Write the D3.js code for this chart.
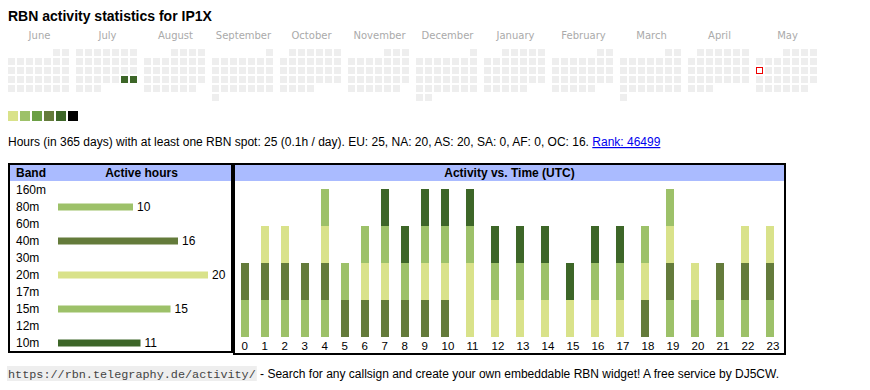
<!DOCTYPE html>
<html lang="en">
<head>
<meta charset="utf-8">
<title>RBN activity IP1X</title>
<script src="https://cdn.jsdelivr.net/npm/d3@7"></script>
<style>
  body { margin: 0; background: #fff; }
  text { font-family: "Liberation Sans", Arial, sans-serif; }
</style>
</head>
<body>
<script>
// calendar data (June 2024 .. May 2025)
var monthNames = ["June", "July", "August", "September", "October", "November",
                  "December", "January", "February", "March", "April", "May"];
var firstMonth = new Date(2024, 5, 1);
var activeDays = ["2024-07-27", "2024-07-28"];
var activeLevels = [5, 5];
var today = "2025-05-12";
var levelColors = ["#d9e28a", "#9dc169", "#6b9f45", "#647b3b", "#3d6628", "#000000"];

// band table
var bands = ["160m", "80m", "60m", "40m", "30m", "20m", "17m", "15m", "12m", "10m"];
var bandHours = [0, 10, 0, 16, 0, 20, 0, 15, 0, 11];
var bandColors = {"80m": "#9dc169", "40m": "#647b3b", "20m": "#d9e28a", "15m": "#9dc169", "10m": "#3d6628"};

// active hours per UTC hour, per band
var hourLabels = ["0","1","2","3","4","5","6","7","8","9","10","11",
                  "12","13","14","15","16","17","18","19","20","21","22","23"];
var h80 = [1,1,1,1,1,0,0,0,0,0,0,0,0,0,0,0,0,0,0,1,1,1,1,1];
var h40 = [1,1,1,1,1,1,1,1,1,1,1,0,0,0,0,0,0,0,1,1,0,1,1,1];
var h20 = [0,1,1,0,1,0,1,1,0,1,1,2,1,1,1,1,1,1,1,1,1,0,1,1];
var h15 = [0,0,0,0,1,1,1,1,1,1,1,1,1,1,1,0,1,1,1,1,0,0,0,0];
var h10 = [0,0,0,0,0,0,0,1,1,1,1,1,1,1,1,1,1,1,0,0,0,0,0,0];

var infoText = "Hours (in 365 days) with at least one RBN spot: 25 (0.1h / day). EU: 25, NA: 20, AS: 20, SA: 0, AF: 0, OC: 16. ";
var rankText = "Rank: 46499";

var width = 870, height = 390;
var svg = d3.select("body").append("svg")
    .attr("width", width)
    .attr("height", height);

// title
svg.append("text")
    .attr("x", 8).attr("y", 21)
    .attr("font-size", "14px").attr("font-weight", "bold")
    .text("RBN activity statistics for IP1X");

// ---- calendar ----
var monthX = d3.scaleLinear().domain([0, 12]).range([8, 8 + 68 * 12]);
var cellStep = d3.scaleLinear().domain([0, 1]).range([0, 9]);
var fmt = d3.timeFormat("%Y-%m-%d");

svg.selectAll("text.month")
    .data(monthNames)
    .enter().append("text")
    .attr("class", "month")
    .attr("x", function(d, i) { return monthX(i) + 31.5; })
    .attr("y", 39)
    .attr("text-anchor", "middle")
    .attr("fill", "#aaa")
    .style("font-family", "'DejaVu Sans', Verdana, sans-serif")
    .attr("font-size", "10px")
    .text(function(d) { return d; });

var days = [];
monthNames.forEach(function(name, m) {
    var start = d3.timeMonth.offset(firstMonth, m);
    var end = d3.timeMonth.offset(start, 1);
    var offset = (start.getDay() + 6) % 7;   // monday first
    d3.timeDay.range(start, end).forEach(function(dt) {
        var k = dt.getDate() - 1 + offset;
        days.push({m: m, col: k % 7, row: Math.floor(k / 7), key: fmt(dt)});
    });
});

svg.selectAll("rect.day")
    .data(days)
    .enter().append("rect")
    .attr("class", "day")
    .attr("x", function(d) { return monthX(d.m) + cellStep(d.col); })
    .attr("y", function(d) { return 49 + cellStep(d.row); })
    .attr("width", 7).attr("height", 7)
    .attr("fill", function(d) {
        var a = activeDays.indexOf(d.key);
        if (d.key == today) return "#fff";
        return a >= 0 ? levelColors[activeLevels[a] - 1] : "#eee";
    })
    .attr("stroke", function(d) { return d.key == today ? "#e00" : "none"; })
    .attr("stroke-width", 1);

// today cell: keep the 1px border on whole pixels
svg.selectAll("rect.day").filter(function(d) { return d.key == today; })
    .attr("x", function(d) { return monthX(d.m) + cellStep(d.col) + 0.5; })
    .attr("y", function(d) { return 49 + cellStep(d.row) + 0.5; })
    .attr("width", 6).attr("height", 6);

// legend
svg.selectAll("rect.legend")
    .data(levelColors)
    .enter().append("rect")
    .attr("class", "legend")
    .attr("x", function(d, i) { return 8 + i * 12; })
    .attr("y", 111)
    .attr("width", 10).attr("height", 10)
    .attr("fill", function(d) { return d; });

// info line
var info = svg.append("text")
    .attr("x", 8).attr("y", 146)
    .attr("font-size", "12px");
info.append("tspan").text(infoText);
info.append("tspan").attr("fill", "#00e")
    .style("text-decoration", "underline")
    .text(rankText);

// ---- band panel ----
var p1 = {x: 9, y: 164, w: 223, h: 188};
svg.append("rect").attr("x", p1.x + 1).attr("y", p1.y + 1)
    .attr("width", p1.w - 2).attr("height", 16).attr("fill", "#aabbff");
svg.append("rect").attr("x", p1.x).attr("y", p1.y)
    .attr("width", p1.w).attr("height", p1.h)
    .attr("fill", "none").attr("stroke", "#000").attr("stroke-width", 2);
svg.append("text").attr("x", 16).attr("y", 177)
    .attr("font-size", "12px").attr("font-weight", "bold").text("Band");
svg.append("text").attr("x", 141.5).attr("y", 177)
    .attr("text-anchor", "middle")
    .attr("font-size", "12px").attr("font-weight", "bold").text("Active hours");

var yBand = d3.scaleBand().domain(bands).range([181, 351]);
var xHours = d3.scaleLinear().domain([0, 20]).range([58, 208]);

svg.selectAll("text.band")
    .data(bands)
    .enter().append("text")
    .attr("class", "band")
    .attr("x", 16)
    .attr("y", function(d) { return yBand(d) + yBand.bandwidth() / 2 + 4; })
    .attr("font-size", "12px")
    .text(function(d) { return d; });

var bandRows = bands.map(function(b, i) { return {band: b, hours: bandHours[i]}; })
    .filter(function(d) { return d.hours > 0; });

svg.selectAll("rect.bandbar")
    .data(bandRows)
    .enter().append("rect")
    .attr("class", "bandbar")
    .attr("x", xHours(0))
    .attr("y", function(d) { return yBand(d.band) + yBand.bandwidth() / 2 - 3; })
    .attr("width", function(d) { return xHours(d.hours) - xHours(0); })
    .attr("height", 7)
    .attr("fill", function(d) { return bandColors[d.band]; });

svg.selectAll("text.bandval")
    .data(bandRows)
    .enter().append("text")
    .attr("class", "bandval")
    .attr("x", function(d) { return xHours(d.hours) + 4; })
    .attr("y", function(d) { return yBand(d.band) + yBand.bandwidth() / 2 + 4; })
    .attr("font-size", "12px")
    .text(function(d) { return d.hours; });

// ---- activity vs time panel ----
var p2 = {x: 234, y: 164, w: 551, h: 190};
svg.append("rect").attr("x", p2.x + 1).attr("y", p2.y + 1)
    .attr("width", p2.w - 2).attr("height", 16).attr("fill", "#aabbff");
svg.append("rect").attr("x", p2.x).attr("y", p2.y)
    .attr("width", p2.w).attr("height", p2.h)
    .attr("fill", "none").attr("stroke", "#000").attr("stroke-width", 2);
svg.append("text").attr("x", p2.x + p2.w / 2).attr("y", 177)
    .attr("text-anchor", "middle")
    .attr("font-size", "12px").attr("font-weight", "bold")
    .text("Activity vs. Time (UTC)");

// table-like columns: wider for two digit hours
var colWidths = hourLabels.map(function(h) { return 15 + 5 * h.length; });
var colStarts = [0].concat(Array.from(d3.cumsum(colWidths)).slice(0, -1));
var xHour = d3.scaleOrdinal().domain(hourLabels)
    .range(colStarts.map(function(c) { return 241 + c; }));
var yAct = d3.scaleLinear().domain([0, 4]).range([337, 189]);

var hourData = hourLabels.map(function(h, i) {
    return {hour: h, "80m": h80[i], "40m": h40[i], "20m": h20[i], "15m": h15[i], "10m": h10[i]};
});
var stack = d3.stack().keys(["80m", "40m", "20m", "15m", "10m"]);
var series = stack(hourData);

svg.append("g").selectAll("g")
    .data(series)
    .enter().append("g")
    .attr("fill", function(s) { return bandColors[s.key]; })
    .selectAll("rect")
    .data(function(s) { return s.filter(function(d) { return d[1] > d[0]; }); })
    .enter().append("rect")
    .attr("x", function(d) { return xHour(d.data.hour); })
    .attr("y", function(d) { return yAct(d[1]); })
    .attr("width", 8)
    .attr("height", function(d) { return yAct(d[0]) - yAct(d[1]); });

svg.selectAll("text.hour")
    .data(hourLabels)
    .enter().append("text")
    .attr("class", "hour")
    .attr("x", function(d) { return xHour(d) + 0.5; })
    .attr("y", 350)
    .attr("font-size", "11.5px")
    .text(function(d) { return d; });

// ---- footer ----
var code = svg.append("text")
    .attr("x", 8).attr("y", 378)
    .style("font-family", "'Liberation Mono', 'Courier New', monospace")
    .attr("font-size", "11.8px")
    .attr("fill", "#444")
    .text("https://rbn.telegraphy.de/activity/");
var cb = code.node().getBBox();
svg.insert("rect", "text")
    .attr("x", cb.x - 1).attr("y", 366)
    .attr("width", cb.width + 2).attr("height", 15)
    .attr("fill", "#eee");
svg.append("text")
    .attr("x", cb.x + cb.width + 1).attr("y", 378)
    .attr("font-size", "12px")
    .attr("xml:space", "preserve")
    .text(" - Search for any callsign and create your own embeddable RBN widget! A free service by DJ5CW.");
</script>
</body>
</html>
